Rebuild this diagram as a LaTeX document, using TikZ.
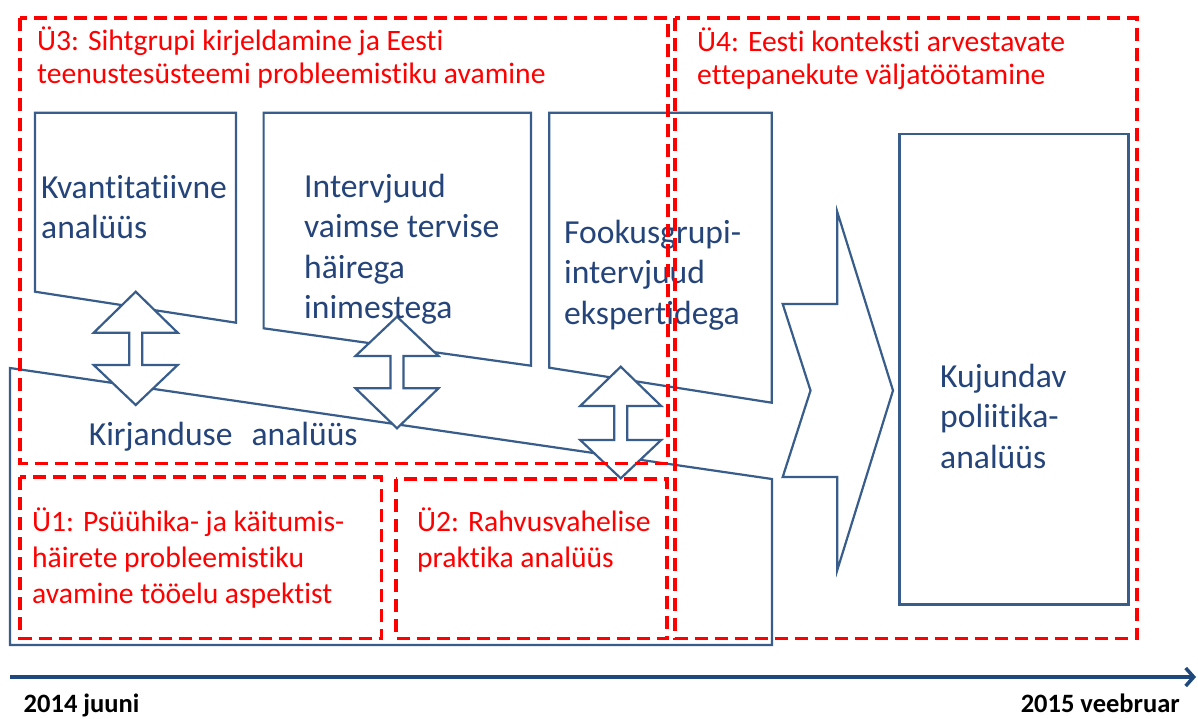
\documentclass[tikz,border=0pt]{standalone}
\usepackage{fontspec}
\setmainfont[Ligatures=NoCommon]{Carlito}
\usetikzlibrary{arrows.meta}
\definecolor{dred}{RGB}{255,0,0}
\definecolor{bline}{RGB}{56,93,138}
\definecolor{btext}{RGB}{36,68,122}
\definecolor{baxis}{RGB}{31,73,125}
\begin{document}
\begin{tikzpicture}[x=1pt,y=-1pt,
  blk/.style={draw=bline,line width=2.2pt,fill=white,line join=miter},
  dbox/.style={draw=dred,line width=3.2pt,dash pattern=on 13pt off 7pt},
  redtxt/.style={text=dred,anchor=north west,inner sep=0pt,align=left,font=\fontsize{29.6}{32.5}\selectfont},
  redtxtb/.style={redtxt,font=\fontsize{29.6}{36}\selectfont},
  bluetxt/.style={text=btext,anchor=north west,inner sep=0pt,align=left,font=\fontsize{33.6}{40.5}\selectfont},
  axisline/.style={draw=baxis,line width=4pt,-{Straight Barb[length=8pt,width=18pt,line width=3.5pt]}},
  datetxt/.style={text=black,inner sep=0pt,font=\fontsize{26.5}{30}\bfseries\selectfont}]
\useasboundingbox (0,0) rectangle (1198,718);
\fill[white] (0,0) rectangle (1198,718);
% literature box
\draw[blk,fill=none] (10,368) -- (772,479) -- (772,645) -- (10,645) -- cycle;
% three method boxes
\draw[blk] (35,112.7) -- (236,112.7) -- (236,322.7) -- (35,291.7) -- cycle;
\draw[blk] (263.6,112.7) -- (531,112.7) -- (531,365.7) -- (263.6,328.3) -- cycle;
\draw[blk] (549.3,112.7) -- (771.7,112.7) -- (771.7,402.7) -- (549.3,367.7) -- cycle;
% double arrows
\draw[blk] (135.7,291.7) -- (177.7,332.7) -- (142.2,332.7) -- (142.2,365) -- (177.7,365) -- (135.7,405) -- (93.7,365) -- (129.2,365) -- (129.2,332.7) -- (93.7,332.7) -- cycle;
\draw[blk] (397,316.7) -- (438.5,356) -- (403.5,356) -- (403.5,388.3) -- (438.5,388.3) -- (397,428.3) -- (355.5,388.3) -- (390.5,388.3) -- (390.5,356) -- (355.5,356) -- cycle;
\draw[blk] (620.7,366.7) -- (661.2,406) -- (627.2,406) -- (627.2,440) -- (661.2,440) -- (620.7,478.3) -- (580.2,440) -- (614.2,440) -- (614.2,406) -- (580.2,406) -- cycle;
% big chevron arrow
\draw[blk] (837.3,212) -- (893,390.5) -- (837.3,570) -- (837.3,477) -- (782.7,477) -- (810.5,390.5) -- (782.7,304) -- (837.3,304) -- cycle;
% result box
\draw[blk] (899.5,134) rectangle (1128.5,604.5);
% blue texts
\node[bluetxt] (kvant) at (41,164.5) {\rule{0pt}{33.6pt}Kvantitatiivne\\analüüs};
\node[bluetxt] (interv) at (304,163.5) {\rule{0pt}{33.6pt}Intervjuud\\vaimse tervise\\häirega\\inimestega};
\node[bluetxt] (fookus) at (564,209.5) {\rule{0pt}{33.6pt}Fookusgrupi-\\intervjuud\\ekspertidega};
\node[text=btext,inner sep=0pt,anchor=base west,font=\fontsize{33.6}{40.5}\selectfont] (kirj) at (88.6,445) {Kirjanduse\hspace{19pt}analüüs};
\node[bluetxt] (kujund) at (940,353.5) {\rule{0pt}{33.6pt}Kujundav\\poliitika-\\analüüs};
% red texts
\node[redtxt] (u3) at (37,21) {\rule{0pt}{29.6pt}Ü3: Sihtgrupi kirjeldamine ja Eesti\\teenustesüsteemi probleemistiku avamine};
\node[redtxt] (u4) at (697,22) {\rule{0pt}{29.6pt}Ü4: Eesti konteksti arvestavate\\ettepanekute väljatöötamine};
\node[redtxtb] (u1) at (32,501.5) {\rule{0pt}{29.6pt}Ü1: Psüühika- ja käitumis-\\häirete probleemistiku\\avamine tööelu aspektist};
\node[redtxtb] (u2) at (417,501.5) {\rule{0pt}{29.6pt}Ü2: Rahvusvahelise\\praktika analüüs};
% red dashed boxes
\draw[dbox] (20,18) rectangle (668,463.3);
\draw[dbox] (675,18) rectangle (1137,638.5);
\draw[dbox] (20,477) rectangle (381.5,638.5);
\draw[dbox] (396,479) rectangle (667,638.5);
% time axis
\coordinate (t0) at (10,677);
\coordinate (t1) at (1196,677);
\draw[axisline] (t0) -- (t1);
\node[datetxt,anchor=base west] (start) at (23.5,712) {2014 juuni};
\node[datetxt,anchor=base east] (end) at (1180,712) {2015 veebruar};
\end{tikzpicture}
\end{document}
